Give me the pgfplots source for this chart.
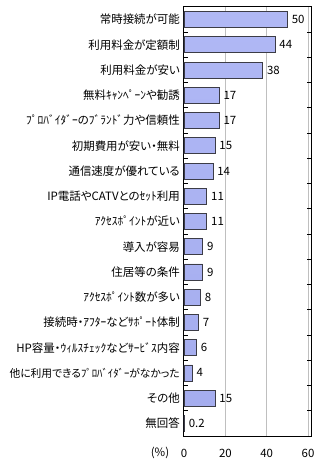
\documentclass[border=0pt]{standalone}
\usepackage{pgfplots}
\pgfplotsset{compat=1.18}
\usepackage{fontspec}
\setmainfont{Noto Sans CJK JP}[RawFeature=+palt]
\definecolor{bartop}{RGB}{176,184,245}
\definecolor{barmid}{RGB}{228,231,255}
\definecolor{barbot}{RGB}{164,172,238}
\definecolor{barline}{RGB}{60,60,70}
\begin{document}
\fontsize{11.5}{14}\selectfont
\begin{tikzpicture}[x=1bp,y=1bp]
\begin{axis}[
  at={(0,0)}, anchor=south west,
  scale only axis, width=127bp, height=429bp,
  xbar, bar width=16bp,
  xmin=0, xmax=61.4,
  ymin=-0.5, ymax=16.5, y dir=reverse,
  ytick={0,...,16},
  yticklabels={常時接続が可能,利用料金が定額制,利用料金が安い,無料ｷｬﾝﾍﾟｰﾝや勧誘,ﾌﾟﾛﾊﾞｲﾀﾞｰのﾌﾞﾗﾝﾄﾞ力や信頼性,初期費用が安い・無料,通信速度が優れている,IP電話やCATVとのｾｯﾄ利用,ｱｸｾｽﾎﾟｲﾝﾄが近い,導入が容易,住居等の条件,ｱｸｾｽﾎﾟｲﾝﾄ数が多い,接続時・ｱﾌﾀｰなどｻﾎﾟｰﾄ体制,HP容量・ｳｨﾙｽﾁｪｯｸなどｻｰﾋﾞｽ内容,{\fontsize{10.8}{13}\selectfont 他に利用できるﾌﾟﾛﾊﾞｲﾀﾞｰがなかった},その他,無回答},
  major y tick style={draw=none},
  minor ytick={0.5,1.5,...,15.5},
  minor y tick style={black, line width=1bp},
  minor tick length=4bp,
  tick align=inside,
  yticklabel style={inner sep=1bp, xshift=-3bp},
  xtick={0,20,40,60},
  major x tick style={draw=none},
  xmajorgrids,
  grid style={black!25, line width=1bp},
  xticklabel style={anchor=base, yshift=-21bp, inner sep=0pt},
  axis line style={line width=1bp},
  /pgf/number format/assume math mode=true,
  point meta=x,
  nodes near coords,
  nodes near coords align=horizontal,
  every node near coord/.append style={inner sep=2bp, xshift=2bp},
  clip=false,
]
\addplot[draw=barline, line width=0.8bp, top color=bartop, middle color=barmid, bottom color=barbot]
  coordinates {(50,0) (44,1) (38,2) (17,3) (17,4) (15,5) (14,6) (11,7) (11,8) (9,9) (9,10) (8,11) (7,12) (6,13) (4,14) (15,15) (0.2,16)};
\end{axis}
\node[anchor=base] at (-24,-21) {(\%)};
\pgfresetboundingbox
\useasboundingbox (-184,-29) rectangle (136,436);
\end{tikzpicture}
\end{document}
